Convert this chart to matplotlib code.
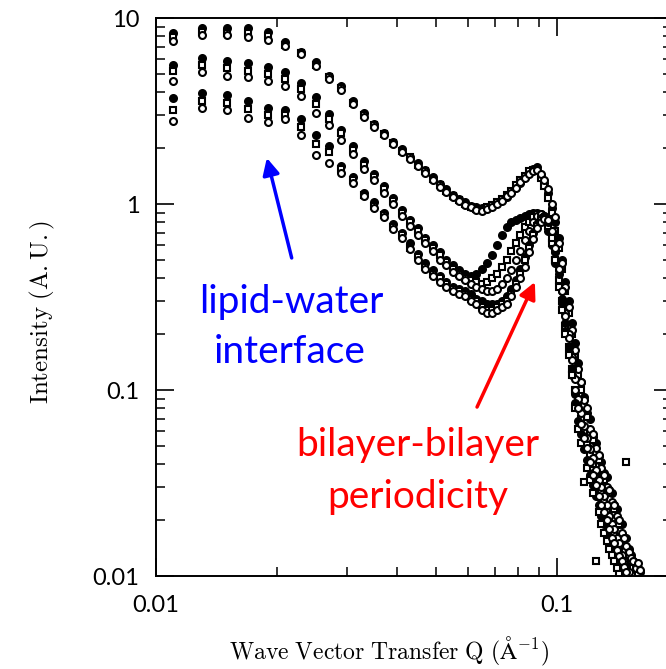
import matplotlib
# no display here
matplotlib.use('Agg')
import matplotlib.pyplot as plt
from matplotlib.ticker import LogLocator, NullFormatter

# wave vector transfer Q (1/Angstrom), common grid for all data sets
Q = [0.011, 0.013, 0.015, 0.017, 0.019, 0.021, 0.023, 0.025, 0.027, 0.029,
     0.031, 0.033, 0.035, 0.037, 0.039, 0.041, 0.043, 0.045, 0.047, 0.049,
     0.051, 0.053, 0.055, 0.057, 0.059, 0.061, 0.063, 0.065, 0.067, 0.069,
     0.071, 0.073, 0.075, 0.077, 0.079, 0.081, 0.083, 0.085, 0.087, 0.089,
     0.091, 0.093, 0.095, 0.097, 0.099, 0.101, 0.103, 0.105, 0.107, 0.109,
     0.111, 0.113, 0.115, 0.117, 0.119, 0.121, 0.123, 0.125, 0.127, 0.129,
     0.131, 0.133, 0.135, 0.137, 0.139, 0.141, 0.143, 0.145, 0.147, 0.149,
     0.151, 0.153, 0.155, 0.157, 0.159, 0.161]

# upper group (peak ~1.5)
top_a = [8.3, 8.8, 8.8, 8.8, 8.4, 7.4, 6.6, 5.8, 4.9, 4.3,
         3.6, 3.1, 2.7, 2.42, 2.16, 1.97, 1.8, 1.66, 1.52, 1.39,
         1.28, 1.2, 1.12, 1.07, 1.02, 0.98, 0.96, 0.95, 0.95, 0.98,
         1.01, 1.05, 1.09, 1.16, 1.23, 1.3, 1.4, 1.48, 1.55, 1.58,
         1.42, 1.3, 1.15, 0.95, 0.8, 0.66, 0.5, 0.38, 0.3, 0.23,
         0.18, 0.14, 0.11, 0.092, 0.075, 0.07, 0.056, 0.052, 0.044, 0.041,
         0.036, 0.034, 0.029, 0.028, 0.024, 0.023, 0.019, 0.019, 0.016, 0.016,
         0.014, 0.013, 0.012, 0.0118, 0.011, 0.0105]
top_b = [7.9, 8.4, 8.3, 8.3, 8.0, 7.2, 6.5, 5.6, 4.8, 4.2,
         3.5, 3.0, 2.65, 2.38, 2.12, 1.94, 1.78, 1.63, 1.5, 1.37,
         1.26, 1.18, 1.1, 1.05, 1.0, 0.97, 0.94, 0.93, 0.96, 0.99,
         1.03, 1.07, 1.12, 1.18, 1.26, 1.34, 1.42, 1.5, 1.52, 1.5,
         1.38, 1.25, 1.08, 0.9, 0.72, 0.58, 0.45, 0.34, 0.26, 0.2,
         0.15, 0.12, 0.1, 0.082, 0.072, 0.058, 0.054, 0.043, 0.042, 0.034,
         0.033, 0.028, 0.028, 0.023, 0.023, 0.019, 0.019, 0.016, 0.015, 0.041,
         0.013, 0.012, 0.011, 0.0115, 0.0104]
top_c = [7.5, 8.1, 8.1, 7.9, 7.6, 7.1, 6.4, 5.5, 4.7, 4.1,
         3.45, 2.95, 2.6, 2.35, 2.1, 1.9, 1.75, 1.6, 1.47, 1.35,
         1.24, 1.16, 1.09, 1.04, 0.99, 0.96, 0.93, 0.92, 0.94, 0.97,
         1.0, 1.04, 1.1, 1.15, 1.22, 1.32, 1.38, 1.45, 1.5, 1.52,
         1.45, 1.35, 1.2, 1.0, 0.85, 0.62, 0.48, 0.36, 0.28, 0.21,
         0.165, 0.13, 0.11, 0.088, 0.08, 0.062, 0.058, 0.049, 0.045, 0.038,
         0.035, 0.03, 0.029, 0.025, 0.024, 0.021, 0.02, 0.017, 0.016, 0.0145,
         0.0135, 0.0125, 0.012, 0.011, 0.0118, 0.0108]

# middle group
mid_a = [5.6, 6.1, 5.9, 5.7, 5.45, 5.1, 4.5, 3.75, 3.05, 2.5,
         2.05, 1.7, 1.45, 1.25, 1.08, 0.93, 0.82, 0.74, 0.66, 0.6,
         0.55, 0.5, 0.47, 0.44, 0.42, 0.41, 0.42, 0.45, 0.48, 0.53,
         0.6, 0.68, 0.75, 0.8, 0.82, 0.84, 0.86, 0.88, 0.9, 0.9,
         0.88, 0.82, 0.72, 0.6, 0.48, 0.38, 0.28, 0.21, 0.16, 0.12,
         0.095, 0.08, 0.066, 0.056, 0.05, 0.042, 0.036, 0.033, 0.029, 0.026,
         0.023, 0.021, 0.019, 0.017, 0.016, 0.014, 0.013, 0.012, 0.011, 0.0104]
mid_b = [5.2, 5.6, 5.4, 5.2, 5.0, 4.7, 4.15, 3.45, 2.85, 2.4,
         1.95, 1.62, 1.4, 1.2, 1.04, 0.9, 0.8, 0.72, 0.64, 0.58,
         0.53, 0.49, 0.45, 0.42, 0.4, 0.39, 0.38, 0.37, 0.38, 0.4,
         0.42, 0.46, 0.5, 0.56, 0.62, 0.68, 0.75, 0.8, 0.85, 0.88,
         0.87, 0.84, 0.76, 0.62, 0.5, 0.39, 0.3, 0.22, 0.17, 0.13,
         0.1, 0.085, 0.07, 0.06, 0.052, 0.045, 0.04, 0.035, 0.031, 0.028,
         0.025, 0.022, 0.02, 0.019, 0.017, 0.015, 0.014, 0.0125, 0.0115, 0.0108]
mid_c = [4.6, 5.1, 4.9, 4.8, 4.6, 4.3, 3.8, 3.1, 2.66, 2.2,
         1.85, 1.55, 1.35, 1.15, 1.0, 0.86, 0.76, 0.68, 0.62, 0.56,
         0.5, 0.47, 0.43, 0.41, 0.39, 0.37, 0.36, 0.35, 0.34, 0.34,
         0.35, 0.37, 0.4, 0.44, 0.5, 0.56, 0.64, 0.72, 0.8, 0.86,
         0.88, 0.86, 0.8, 0.7, 0.56, 0.44, 0.34, 0.26, 0.2, 0.15,
         0.115, 0.09, 0.075, 0.064, 0.055, 0.048, 0.043, 0.037, 0.033, 0.03,
         0.027, 0.024, 0.021, 0.019, 0.018, 0.016, 0.015, 0.013, 0.012, 0.011,
         0.0105]

# lower group
low_a = [3.7, 3.95, 3.85, 3.6, 3.3, 3.2, 2.85, 2.36, 2.05, 1.6,
         1.4, 1.15, 1.02, 0.9, 0.78, 0.7, 0.62, 0.54, 0.48, 0.44,
         0.41, 0.38, 0.36, 0.35, 0.34, 0.33, 0.31, 0.3, 0.29, 0.29,
         0.29, 0.3, 0.32, 0.35, 0.39, 0.45, 0.52, 0.6, 0.7, 0.78,
         0.84, 0.86, 0.82, 0.7, 0.55, 0.42, 0.31, 0.23, 0.17, 0.13,
         0.085, 0.068, 0.058, 0.048, 0.042, 0.035, 0.031, 0.027, 0.024, 0.021,
         0.019, 0.017, 0.0155, 0.014, 0.013, 0.012, 0.011, 0.0104]
low_b = [3.2, 3.6, 3.5, 3.25, 3.0, 3.0, 2.6, 2.1, 1.9, 1.55,
         1.35, 1.12, 0.98, 0.87, 0.75, 0.68, 0.58, 0.52, 0.46, 0.42,
         0.4, 0.37, 0.35, 0.34, 0.33, 0.31, 0.3, 0.28, 0.27, 0.27,
         0.28, 0.29, 0.3, 0.33, 0.37, 0.42, 0.5, 0.58, 0.68, 0.76,
         0.82, 0.84, 0.8, 0.66, 0.5, 0.36, 0.27, 0.2, 0.155, 0.12,
         0.08, 0.062, 0.052, 0.032, 0.038, 0.033, 0.028, 0.012, 0.022, 0.019,
         0.017, 0.0155, 0.014, 0.013, 0.012, 0.011, 0.0103]
low_c = [2.8, 3.3, 3.2, 2.9, 2.76, 2.85, 2.36, 1.84, 1.66, 1.47,
         1.3, 1.1, 0.95, 0.85, 0.73, 0.66, 0.57, 0.5, 0.45, 0.41,
         0.38, 0.36, 0.34, 0.33, 0.32, 0.3, 0.29, 0.27, 0.26, 0.26,
         0.27, 0.28, 0.29, 0.32, 0.36, 0.4, 0.46, 0.55, 0.65, 0.74,
         0.8, 0.83, 0.82, 0.72, 0.58, 0.45, 0.34, 0.25, 0.19, 0.145,
         0.1, 0.08, 0.066, 0.055, 0.049, 0.041, 0.035, 0.031, 0.027, 0.024,
         0.022, 0.02, 0.018, 0.016, 0.015, 0.0138, 0.0128, 0.012, 0.0112, 0.0105]

x_ticks = [0.01, 0.1]
x_tick_labels = ['0.01', '0.1']
y_ticks = [0.01, 0.1, 1, 10]
y_tick_labels = ['0.01', '0.1', '1', '10']

plt.rcParams['font.family'] = ['Lato', 'DejaVu Sans']
plt.rcParams['mathtext.fontset'] = 'cm'

fig = plt.figure(figsize=(6.66, 6.69), dpi=100)
# right spine sits just past the image edge, like the cropped original
ax = fig.add_axes([0.2342, 0.139, 0.7748, 0.834])

series = [
    (top_a, 'o', 'black'), (top_b, 's', 'white'), (top_c, 'o', 'white'),
    (mid_a, 'o', 'black'), (mid_b, 's', 'white'), (mid_c, 'o', 'white'),
    (low_a, 'o', 'black'), (low_b, 's', 'white'), (low_c, 'o', 'white'),
]
for vals, marker, face in series:
    ax.plot(Q[:len(vals)], vals, linestyle='none', marker=marker,
            markersize=5, markerfacecolor=face, markeredgecolor='black',
            markeredgewidth=1.5)

ax.set_xscale('log')
ax.set_yscale('log')
ax.set_xlim(0.01, 0.1936)
ax.set_ylim(0.01, 10)
ax.set_xticks(x_ticks, labels=x_tick_labels)
ax.set_yticks(y_ticks, labels=y_tick_labels)
ax.xaxis.set_minor_locator(LogLocator(base=10, subs=range(2, 10), numticks=20))
ax.yaxis.set_minor_locator(LogLocator(base=10, subs=range(2, 10), numticks=20))
ax.xaxis.set_minor_formatter(NullFormatter())
ax.yaxis.set_minor_formatter(NullFormatter())

ax.tick_params(which='both', direction='in', top=True, right=True, color='black')
ax.tick_params(which='major', length=13, width=1.2, labelsize=17)
ax.tick_params(which='minor', length=6.5, width=1.1)
ax.tick_params(axis='y', which='major', pad=12)
ax.tick_params(axis='x', which='major', pad=14)
for sp in ax.spines.values():
    sp.set_linewidth(1.4)

fig.text(42 / 666, 1 - 312 / 669, r'$\mathrm{Intensity\ (A.U.)}$',
         rotation=90, fontsize=18, ha='center', va='center')
fig.text(389 / 666, 1 - 651 / 669,
         r'$\mathrm{Wave\ Vector\ Transfer\ Q\ (\AA^{-1})}$',
         fontsize=17, ha='center', va='center')

# annotations
ax.annotate('', xy=(0.0189, 1.77), xytext=(0.0218, 0.513),
            arrowprops=dict(arrowstyle='-|>', color='blue', lw=2.5,
                            mutation_scale=25, shrinkA=0, shrinkB=0))
ax.text(0.0217, 0.297, 'lipid-water', color='blue', fontsize=28,
        ha='center', va='center')
ax.text(0.0216, 0.16, 'interface', color='blue', fontsize=28,
        ha='center', va='center')

ax.annotate('', xy=(0.0881, 0.381), xytext=(0.0632, 0.081),
            arrowprops=dict(arrowstyle='-|>', color='red', lw=2.5,
                            mutation_scale=25, shrinkA=0, shrinkB=0))
ax.text(0.045, 0.0506, 'bilayer-bilayer', color='red', fontsize=28,
        ha='center', va='center')
ax.text(0.045, 0.0266, 'periodicity', color='red', fontsize=28,
        ha='center', va='center')

fig.savefig('out.png', dpi=100)
